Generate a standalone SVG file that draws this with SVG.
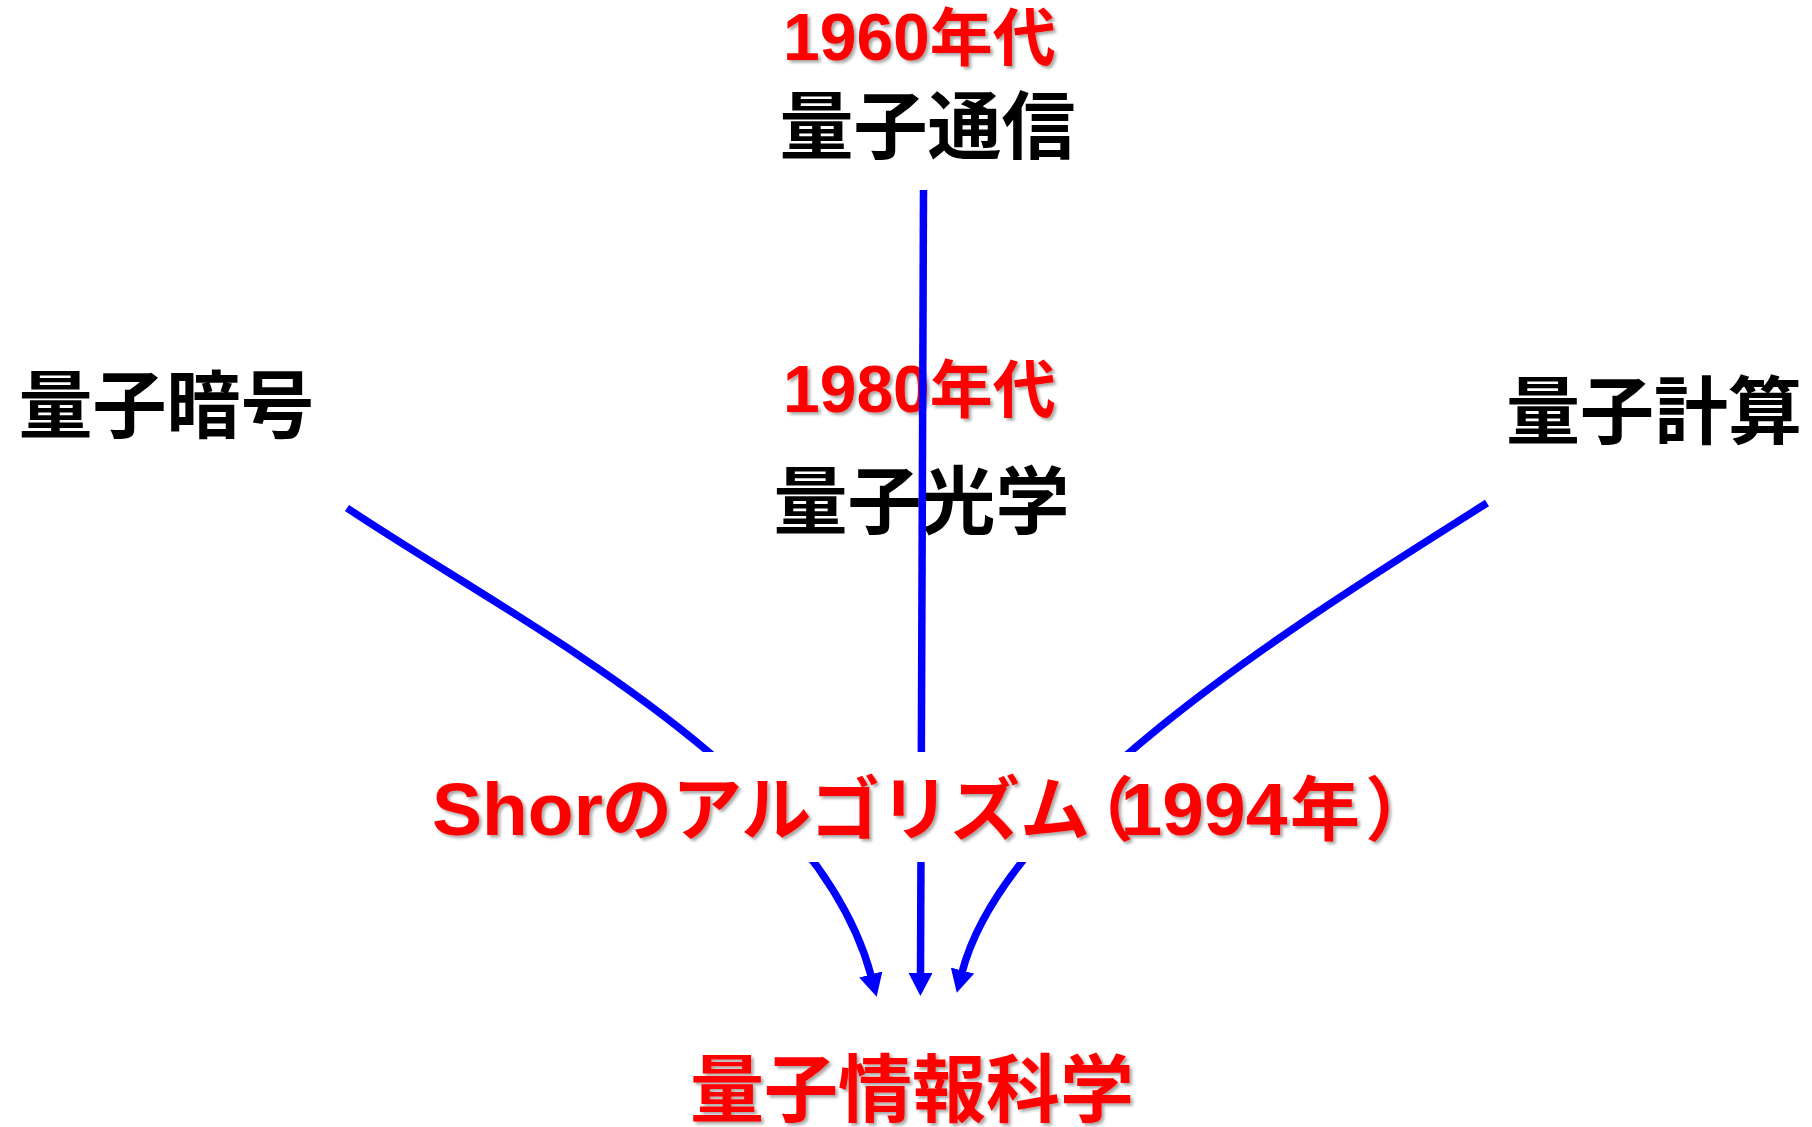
<svg xmlns="http://www.w3.org/2000/svg" width="1812" height="1127" viewBox="0 0 1812 1127">
  <style>
    .jp { font-family: "Noto Sans CJK JP", "Noto Sans CJK SC", sans-serif; font-weight: 700; }
    .lat { font-family: "Liberation Sans", Arial, "Noto Sans CJK JP", sans-serif; font-weight: 700; }
    .black { fill: #000000; }
    .red { fill: #FF0000; filter: url(#sh); }
    .conn { fill: none; stroke: #0000FF; stroke-width: 7.5; stroke-linecap: butt; }
    .head { marker-end: url(#arrow); }
  </style>
  <defs>
    <filter id="sh" x="-5%" y="-10%" width="110%" height="130%">
      <feDropShadow dx="2.5" dy="2.5" stdDeviation="1.5" flood-color="#000000" flood-opacity="0.35"/>
    </filter>
    <marker id="arrow" viewBox="0 0 23 24" markerWidth="23" markerHeight="24" refX="2" refY="12" orient="auto" markerUnits="userSpaceOnUse">
      <path d="M0,0 L23,12 L0,24 z" fill="#0000FF"/>
    </marker>
  </defs>
  <rect x="0" y="0" width="1812" height="1127" fill="#FFFFFF"/>

  <g id="era-1960">
    <text x="783" y="60" class="red"><tspan class="lat" font-size="66">1960</tspan><tspan class="jp" font-size="63">年代</tspan></text>
  </g>
  <g id="node-tsushin">
    <text x="927.5" y="153" class="jp black" font-size="74" text-anchor="middle">量子通信</text>
  </g>
  <g id="node-angou">
    <text x="166.5" y="432" class="jp black" font-size="74" text-anchor="middle">量子暗号</text>
  </g>
  <g id="node-keisan">
    <text x="1654" y="438" class="jp black" font-size="74" text-anchor="middle">量子計算</text>
  </g>
  <g id="era-1980">
    <text x="783" y="412" class="red"><tspan class="lat" font-size="66">1980</tspan><tspan class="jp" font-size="63">年代</tspan></text>
  </g>
  <g id="node-kogaku">
    <text x="921.5" y="528" class="jp black" font-size="74" text-anchor="middle">量子光学</text>
  </g>

  <g id="connectors">
    <path class="conn head" d="M923.5,190 L920.5,975"/>
    <path class="conn head" d="M347,508 C513,619.6 816.3,768.5 871.3,976.4"/>
    <path class="conn head" d="M1487,503 C1318.2,610.2 1007,798.3 962,972.5"/>
  </g>

  <g id="node-shor">
    <rect x="425" y="752" width="975" height="110" fill="#FFFFFF"/>
    <text y="835" class="red"><tspan x="432" class="lat" font-size="75">Shor</tspan><tspan x="602" class="jp" font-size="70">のアルゴリズム</tspan><tspan x="1064" class="jp" font-size="70">（</tspan><tspan x="1120.5" class="lat" font-size="75">1994</tspan><tspan x="1290" class="jp" font-size="70">年</tspan><tspan x="1365" class="jp" font-size="70">）</tspan></text>
  </g>

  <g id="node-johokagaku">
    <text x="912" y="1116" class="jp red" font-size="74" text-anchor="middle">量子情報科学</text>
  </g>
</svg>
